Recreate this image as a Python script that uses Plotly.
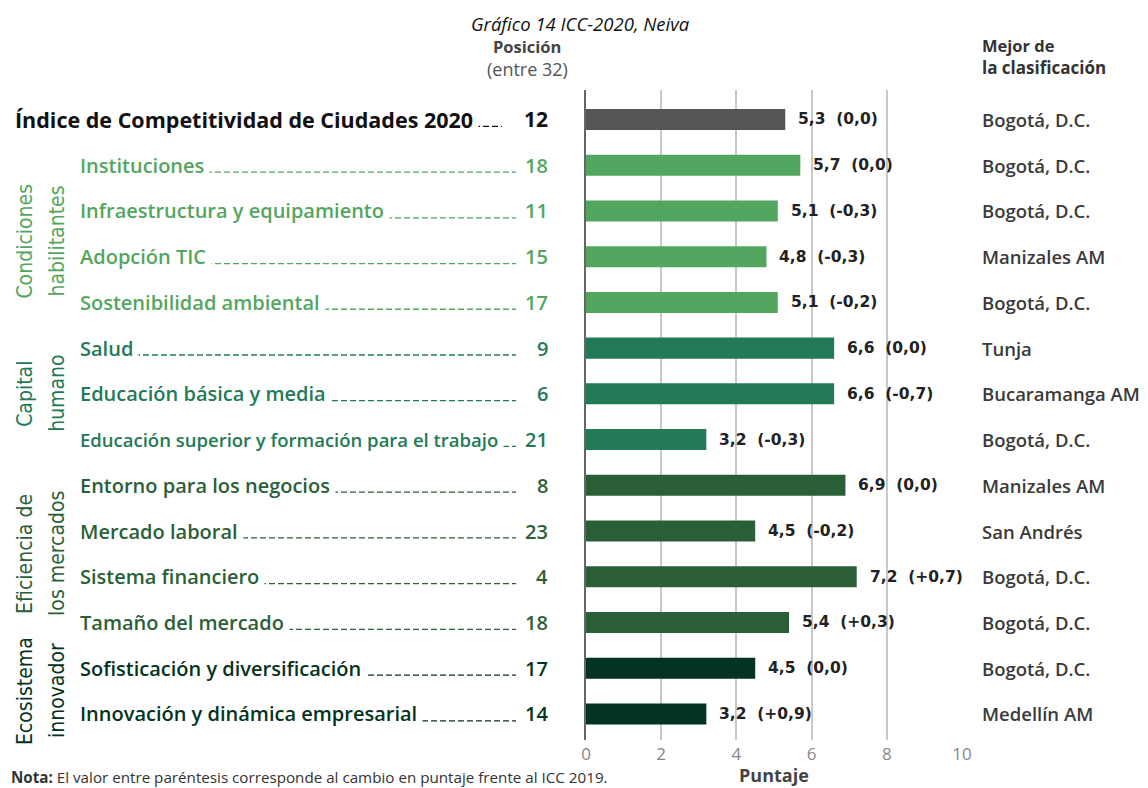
import plotly.graph_objects as go

# Datos del gráfico
indicadores = [
    "Índice de Competitividad de Ciudades 2020",
    "Instituciones",
    "Infraestructura y equipamiento",
    "Adopción TIC",
    "Sostenibilidad ambiental",
    "Salud",
    "Educación básica y media",
    "Educación superior y formación para el trabajo",
    "Entorno para los negocios",
    "Mercado laboral",
    "Sistema financiero",
    "Tamaño del mercado",
    "Sofisticación y diversificación",
    "Innovación y dinámica empresarial",
]
posiciones = [12, 18, 11, 15, 17, 9, 6, 21, 8, 23, 4, 18, 17, 14]
puntajes = [5.3, 5.7, 5.1, 4.8, 5.1, 6.6, 6.6, 3.2, 6.9, 4.5, 7.2, 5.4, 4.5, 3.2]
cambios = [0.0, 0.0, -0.3, -0.3, -0.2, 0.0, -0.7, -0.3, 0.0, -0.2, 0.7, 0.3, 0.0, 0.9]
mejores = [
    "Bogotá, D.C.", "Bogotá, D.C.", "Bogotá, D.C.", "Manizales AM", "Bogotá, D.C.",
    "Tunja", "Bucaramanga AM", "Bogotá, D.C.", "Manizales AM", "San Andrés",
    "Bogotá, D.C.", "Bogotá, D.C.", "Bogotá, D.C.", "Medellín AM",
]
factores = ["ICC"] + ["Condiciones habilitantes"] * 4 + ["Capital humano"] * 3 \
    + ["Eficiencia de los mercados"] * 4 + ["Ecosistema innovador"] * 2
grupos = [
    (["Condiciones", "habilitantes"], 1, 4),
    (["Capital", "humano"], 5, 7),
    (["Eficiencia de", "los mercados"], 8, 11),
    (["Ecosistema", "innovador"], 12, 13),
]

colores = {
    "ICC": "#555555",
    "Condiciones habilitantes": "#53a660",
    "Capital humano": "#237a57",
    "Eficiencia de los mercados": "#2b5f38",
    "Ecosistema innovador": "#043321",
}
color_texto = {
    "ICC": "#111111",
    "Condiciones habilitantes": "#53a660",
    "Capital humano": "#237a57",
    "Eficiencia de los mercados": "#2b5f38",
    "Ecosistema innovador": "#043321",
}

FONT = "Open Sans"
# the page body has an 8px margin, so the figure is 8px smaller than the window
W, H = 1140, 780
X0, X1 = 586, 962   # plot area in window pixels
Y0, Y1 = 90, 740


def px(x):
    return (x - X0) / (X1 - X0)


def py(y):
    return (Y1 - y) / (Y1 - Y0)


def fmt(v, sign=False):
    s = f"{abs(v):.1f}".replace(".", ",")
    if v < 0:
        return "-" + s
    if sign and v > 0:
        return "+" + s
    return s


filas = list(range(len(indicadores)))

fig = go.Figure(
    go.Bar(
        x=puntajes,
        y=filas,
        orientation="h",
        width=0.46,
        marker=dict(color=[colores[f] for f in factores], line=dict(width=0)),
        hoverinfo="skip",
    )
)

ann = []
shapes = []
for i, (nom, pos, pt, cb, mej, fac) in enumerate(
    zip(indicadores, posiciones, puntajes, cambios, mejores, factores)
):
    col = color_texto[fac]
    icc = fac == "ICC"
    size = 21.5 if icc else (18.5 if len(nom) > 40 else 20)
    # leader line
    shapes.append(dict(
        type="line", xref="paper", yref="y",
        x0=px(15 if icc else 80), x1=px(502 if icc else 516),
        y0=i + 0.15, y1=i + 0.15,
        line=dict(color=col, width=1.3, dash="6px,3px"),
        layer="above",
    ))
    # label with white box covering the leader
    ann.append(dict(
        text=nom, xref="paper", yref="y", x=px(9 if icc else 74), y=i,
        xanchor="left", yanchor="middle", showarrow=False,
        bgcolor="white", borderpad=5,
        font=dict(family=FONT, size=size, color=col,
                  weight=700 if icc else 600),
    ))
    # position
    ann.append(dict(
        text=str(pos), xref="paper", yref="y", x=px(550), y=i,
        xanchor="right", yanchor="middle", showarrow=False,
        font=dict(family=FONT, size=21 if icc else 20, color=col,
                  weight=700 if icc else 600),
    ))
    # value label
    ann.append(dict(
        text=f"{fmt(pt)}\u00a0\u00a0({fmt(cb, True)})", xref="x", yref="y",
        x=pt, y=i, xanchor="left", yanchor="middle", xshift=11, showarrow=False,
        font=dict(family="DejaVu Sans", size=15.5, color="#222222", weight=700),
    ))
    # best city
    ann.append(dict(
        text=mej, xref="paper", yref="y", x=px(980), y=i,
        xanchor="left", yanchor="middle", showarrow=False,
        font=dict(family=FONT, size=18.5, color="#3a3a3a", weight=600),
    ))

for lineas, a, b in grupos:
    col = color_texto[factores[a]]
    yc = (a + b) / 2 + (0.17 if a == 1 else 0)
    for xl, txt in zip([25, 57], lineas):
        ann.append(dict(
            text=txt, xref="paper", yref="y", x=px(xl), y=yc,
            xanchor="center", yanchor="middle", showarrow=False, textangle=-90,
            font=dict(family="Liberation Sans Narrow, DejaVu Sans Condensed, Roboto",
                      size=21, color=col),
        ))

# headers, title, notes
ann += [
    dict(text="<i>Gráfico 14 ICC-2020, Neiva</i>", xref="paper", yref="paper",
         x=px(580), y=py(23), xanchor="center", yanchor="middle",
         showarrow=False, font=dict(family=FONT, size=18.5, color="#111111")),
    dict(text="<b>Posición</b>", xref="paper", yref="paper",
         x=px(527), y=py(47), xanchor="center", yanchor="middle",
         showarrow=False, font=dict(family=FONT, size=16.5, color="#444444")),
    dict(text="(entre 32)", xref="paper", yref="paper",
         x=px(527), y=py(69), xanchor="center", yanchor="middle",
         showarrow=False, font=dict(family=FONT, size=18, color="#555555")),
    dict(text="<b>Mejor de</b>", xref="paper", yref="paper",
         x=px(980), y=py(46), xanchor="left", yanchor="middle",
         showarrow=False, font=dict(family=FONT, size=16.5, color="#333333")),
    dict(text="<b>la clasificación</b>", xref="paper", yref="paper",
         x=px(980), y=py(67), xanchor="left", yanchor="middle",
         showarrow=False, font=dict(family=FONT, size=17, color="#333333")),
    dict(text="<b>Puntaje</b>", xref="paper", yref="paper",
         x=0.5, y=py(775), xanchor="center", yanchor="middle",
         showarrow=False, font=dict(family=FONT, size=18, color="#444444")),
    dict(text="<b>Nota:</b> El valor entre paréntesis corresponde al cambio en puntaje frente al ICC 2019.",
         xref="paper", yref="paper", x=px(9), y=py(777),
         xanchor="left", yanchor="middle", showarrow=False,
         font=dict(family=FONT, size=15.2, color="#333333")),
]

fig.update_layout(
    width=W, height=H,
    margin=dict(l=X0 - 8, r=W + 8 - X1, t=Y0 - 8, b=H + 8 - Y1),
    paper_bgcolor="white", plot_bgcolor="white",
    showlegend=False,
    annotations=ann,
    shapes=shapes,
    xaxis=dict(
        range=[0, 10], tickvals=[0, 2, 4, 6, 8, 10],
        showgrid=True, gridcolor="#c8c8c8", gridwidth=2,
        zeroline=False, showline=False,
        tickfont=dict(family=FONT, size=17, color="#888888"),
        ticklabelstandoff=2, fixedrange=True,
    ),
    yaxis=dict(
        range=[13.57, -0.645], showticklabels=False, showgrid=False,
        zeroline=False, showline=True, linecolor="#666666", linewidth=2,
        fixedrange=True,
    ),
)

fig.write_html("out.html")
